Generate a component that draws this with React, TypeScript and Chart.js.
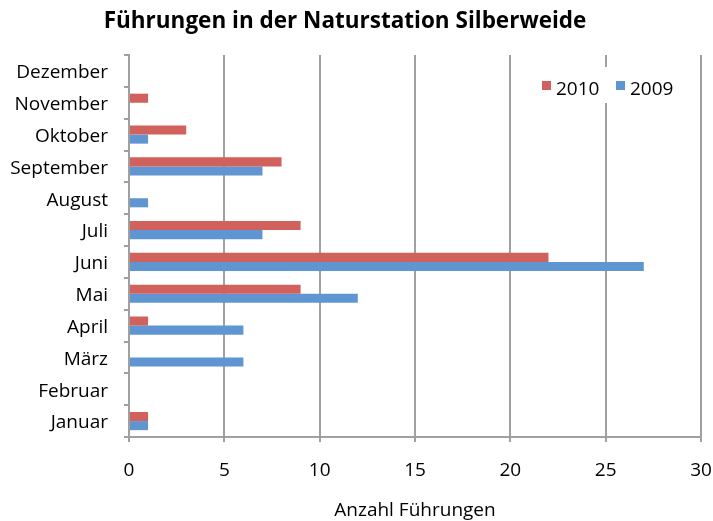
import React, { useEffect, useRef } from "react";
import { Chart, registerables } from "chart.js";

Chart.register(...registerables);

const months = ["Januar", "Februar", "März", "April", "Mai", "Juni", "Juli", "August", "September", "Oktober", "November", "Dezember"];
const values2010 = [1, 0, 0, 1, 9, 22, 9, 0, 8, 3, 1, 0];
const values2009 = [1, 0, 6, 6, 12, 27, 7, 1, 7, 1, 0, 0];
const seriesNames = ["2010", "2009"];
const xTicks = [0, 5, 10, 15, 20, 25, 30];
const titleText = "Führungen in der Naturstation Silberweide";
const xTitle = "Anzahl Führungen";

const FONT = "'Open Sans', 'Noto Sans', sans-serif";
const RED = "#D0615D";
const BLUE = "#5F96D1";
const GRID = "#A0A0A0";

export default function App() {
  const ref = useRef<HTMLCanvasElement>(null);
  useEffect(() => {
    document.body.style.margin = "0";
    const labels = [...months].reverse();
    const d10 = [...values2010].reverse();
    const d09 = [...values2009].reverse();
    const extras = {
      id: "extras",
      afterDraw(chart: any) {
        const ctx = chart.ctx;
        const ca = chart.chartArea;
        ctx.save();
        ctx.fillStyle = "#000";
        ctx.textBaseline = "middle";
        ctx.textAlign = "center";
        ctx.font = `bold 22.5px ${FONT}`;
        ctx.fillText(titleText, 345, 22);
        ctx.font = `19px ${FONT}`;
        ctx.fillText(xTitle, (ca.left + ca.right) / 2, 511);
        // legend
        ctx.fillStyle = "#fff";
        ctx.fillRect(536, 67, 145, 36);
        ctx.textAlign = "left";
        ctx.font = `19px ${FONT}`;
        let x = 542;
        const y = 90;
        chart.data.datasets.forEach((ds: any) => {
          ctx.fillStyle = ds.backgroundColor;
          ctx.fillRect(x, y - 9, 9, 9);
          ctx.fillStyle = "#000";
          ctx.fillText(ds.label, x + 14, y);
          x += 74;
        });
        ctx.restore();
      },
    };
    const chart = new Chart(ref.current!, {
      type: "bar",
      data: {
        labels,
        datasets: [
          { label: seriesNames[0], data: d10, backgroundColor: RED },
          { label: seriesNames[1], data: d09, backgroundColor: BLUE },
        ],
      },
      options: {
        indexAxis: "y",
        animation: false,
        responsive: false,
        maintainAspectRatio: false,
        layout: { padding: { top: 55, right: 12, left: 0, bottom: 0 } },
        datasets: { bar: { barPercentage: 1, categoryPercentage: 0.57 } },
        plugins: { legend: { display: false }, title: { display: false }, tooltip: { enabled: false } },
        scales: {
          x: {
            min: 0,
            max: 30,
            afterBuildTicks(scale: any) {
              scale.ticks = xTicks.map((v) => ({ value: v }));
            },
            afterFit(scale: any) {
              scale.height = 84;
              scale.paddingLeft = 0;
              scale.paddingRight = 0;
            },
            border: { color: GRID, width: 2 },
            grid: { color: GRID, lineWidth: 2, tickLength: 5, drawOnChartArea: true },
            ticks: { color: "#000", font: { family: FONT, size: 19 }, padding: 17 },
          },
          y: {
            afterFit(scale: any) {
              scale.width = 129;
              scale.paddingTop = 0;
              scale.paddingBottom = 0;
            },
            border: { color: GRID, width: 2 },
            grid: { color: GRID, lineWidth: 2, tickLength: 5, drawOnChartArea: false, offset: true },
            ticks: { color: "#000", font: { family: FONT, size: 19 }, padding: 16, autoSkip: false, labelOffset: 2 },
          },
        },
      },
      plugins: [extras],
    });
    return () => chart.destroy();
  }, []);
  return (
    <div style={{ width: 713, height: 521 }}>
      <canvas ref={ref} width={713} height={521} />
    </div>
  );
}
